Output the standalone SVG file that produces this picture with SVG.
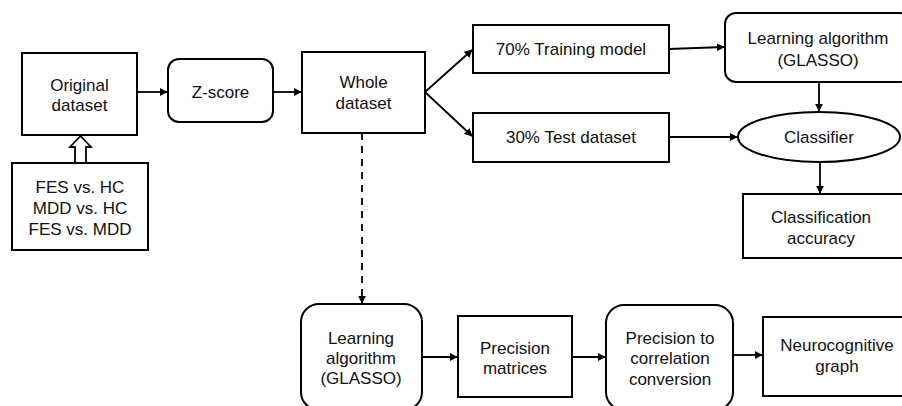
<svg xmlns="http://www.w3.org/2000/svg" width="902" height="406" viewBox="0 0 902 406">
  <style>
    .box { fill: #fff; stroke: #000; stroke-width: 2; }
    .lbl { font-family: "Liberation Sans", Arial, sans-serif; font-size: 17px; fill: #111; text-anchor: middle; }
    .edge { fill: none; stroke: #000; stroke-width: 1.8; }
    .dash { stroke-dasharray: 7 6; }
  </style>
  <defs>
    <marker id="arrow" viewBox="0 0 10 10" refX="9" refY="5" markerWidth="4.5" markerHeight="4.5" orient="auto" markerUnits="strokeWidth">
      <path d="M0,0 L10,5 L0,10 z" fill="#000"/>
    </marker>
  </defs>
  <rect width="902" height="406" fill="#fff"/>

  <g id="connectors">
    <line class="edge" x1="137" y1="92" x2="167" y2="92" marker-end="url(#arrow)"/>
    <line class="edge" x1="273" y1="92" x2="301" y2="92" marker-end="url(#arrow)"/>
    <line class="edge" x1="425" y1="92" x2="472" y2="50" marker-end="url(#arrow)"/>
    <line class="edge" x1="425" y1="92" x2="472" y2="136" marker-end="url(#arrow)"/>
    <line class="edge" x1="669" y1="49" x2="724" y2="47" marker-end="url(#arrow)"/>
    <line class="edge" x1="669" y1="137" x2="737" y2="137" marker-end="url(#arrow)"/>
    <line class="edge" x1="819" y1="82" x2="819" y2="111" marker-end="url(#arrow)"/>
    <line class="edge" x1="820" y1="162" x2="820" y2="193" marker-end="url(#arrow)"/>
    <line class="edge dash" x1="362" y1="133" x2="362" y2="303" marker-end="url(#arrow)"/>
    <line class="edge" x1="422" y1="357" x2="457" y2="357" marker-end="url(#arrow)"/>
    <line class="edge" x1="572" y1="357" x2="605" y2="357" marker-end="url(#arrow)"/>
    <line class="edge" x1="733" y1="355" x2="762" y2="355" marker-end="url(#arrow)"/>
    <!-- hollow block arrow from the group list up to the dataset -->
    <polygon points="75,163 75,147 70,147 80.5,136 91,147 86,147 86,163" fill="#fff" stroke="#000" stroke-width="1.8" stroke-linejoin="miter"/>
  </g>

  <g id="original">
    <rect class="box" x="22" y="53" width="115" height="82"/>
    <text class="lbl" x="79.5" y="91">Original</text>
    <text class="lbl" x="79.5" y="111">dataset</text>
  </g>

  <g id="groups">
    <rect class="box" x="12" y="163" width="136" height="87"/>
    <text class="lbl" x="80" y="193">FES vs. HC</text>
    <text class="lbl" x="80" y="214">MDD vs. HC</text>
    <text class="lbl" x="80" y="235">FES vs. MDD</text>
  </g>

  <g id="zscore">
    <rect class="box" x="168" y="59" width="105" height="63" rx="11"/>
    <text class="lbl" x="220.5" y="98">Z-score</text>
  </g>

  <g id="whole">
    <rect class="box" x="302" y="52" width="123" height="81"/>
    <text class="lbl" x="363.5" y="88">Whole</text>
    <text class="lbl" x="363.5" y="109">dataset</text>
  </g>

  <g id="training">
    <rect class="box" x="473" y="25" width="196" height="48"/>
    <text class="lbl" x="571" y="55">70% Training model</text>
  </g>

  <g id="test">
    <rect class="box" x="473" y="113" width="196" height="49"/>
    <text class="lbl" x="571" y="143">30% Test dataset</text>
  </g>

  <g id="learning-top">
    <rect class="box" x="725" y="13" width="186" height="69" rx="11"/>
    <text class="lbl" x="818" y="44">Learning algorithm</text>
    <text class="lbl" x="818" y="66">(GLASSO)</text>
  </g>

  <g id="classifier">
    <ellipse class="box" cx="819" cy="137" rx="81" ry="25"/>
    <text class="lbl" x="819" y="143">Classifier</text>
  </g>

  <g id="accuracy">
    <rect class="box" x="743" y="194" width="161" height="64"/>
    <text class="lbl" x="821" y="223">Classification</text>
    <text class="lbl" x="821" y="244">accuracy</text>
  </g>

  <g id="learning-bottom">
    <rect class="box" x="301" y="304" width="121" height="106" rx="18"/>
    <text class="lbl" x="361" y="344">Learning</text>
    <text class="lbl" x="361" y="364">algorithm</text>
    <text class="lbl" x="361" y="384">(GLASSO)</text>
  </g>

  <g id="precision">
    <rect class="box" x="458" y="316" width="114" height="81"/>
    <text class="lbl" x="515" y="354">Precision</text>
    <text class="lbl" x="515" y="374">matrices</text>
  </g>

  <g id="conversion">
    <rect class="box" x="606" y="305" width="127" height="105" rx="18"/>
    <text class="lbl" x="670" y="344">Precision to</text>
    <text class="lbl" x="670" y="364">correlation</text>
    <text class="lbl" x="670" y="385">conversion</text>
  </g>

  <g id="graph">
    <rect class="box" x="763" y="317" width="148" height="79"/>
    <text class="lbl" x="837" y="351">Neurocognitive</text>
    <text class="lbl" x="837" y="372">graph</text>
  </g>
</svg>
